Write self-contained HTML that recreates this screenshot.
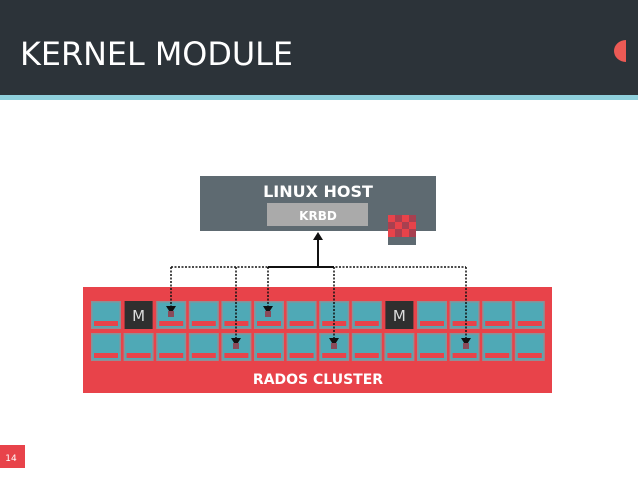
<!DOCTYPE html>
<html><head><style>
body{margin:0;width:638px;height:479px;overflow:hidden;background:#fff;font-family:"DejaVu Sans","Liberation Sans",sans-serif}
</style></head><body>
<svg width="638" height="479" viewBox="0 0 638 479" xmlns="http://www.w3.org/2000/svg" font-family="DejaVu Sans, Liberation Sans, sans-serif">
<rect x="0" y="0" width="638" height="95" fill="#2c3339"/>
<rect x="0" y="95" width="638" height="5" fill="#8fd0dc"/>
<text x="20" y="65" font-size="32" fill="#fff" textLength="273" lengthAdjust="spacingAndGlyphs">KERNEL MODULE</text>
<path d="M626 40 A12 11 0 0 0 626 62 Z" fill="#ec5a55"/>
<rect x="200" y="176" width="236" height="55" fill="#5e6a71"/>
<text x="318" y="197" font-size="16" font-weight="bold" fill="#fff" text-anchor="middle">LINUX HOST</text>
<rect x="267" y="203" width="101" height="23" fill="#aaaaaa"/>
<text x="318" y="220" font-size="12" font-weight="bold" fill="#fff" text-anchor="middle">KRBD</text>
<g id="ic">
<rect x="388" y="215" width="28" height="30" fill="#5e6a71"/>
<rect x="388" y="215" width="28" height="22" fill="#e8434a"/>
<rect x="395" y="215" width="7" height="7" fill="#a84050"/><rect x="409" y="215" width="7" height="7" fill="#a84050"/>
<rect x="388" y="222" width="7" height="7" fill="#a84050"/><rect x="402" y="222" width="7" height="7" fill="#a84050"/>
<rect x="395" y="229" width="7" height="8" fill="#a84050"/><rect x="409" y="229" width="7" height="8" fill="#a84050"/>
</g>
<rect x="83" y="287" width="469" height="106" fill="#e8434a"/>
<g id="cells"></g>
<text x="318" y="384" font-size="14" font-weight="bold" fill="#fff" text-anchor="middle">RADOS CLUSTER</text>
<g stroke="#111" stroke-width="1.5" fill="none">
<path d="M171 267 H466" stroke-dasharray="2,1.5"/>
<path d="M268 267 H334" stroke-width="2"/>
<path d="M318 267 V240" stroke-width="2"/>
<path d="M171 267 V308 M236 267 V340 M268 267 V308 M334 267 V340 M466 267 V340" stroke-dasharray="2,1.5"/>
</g>
<g fill="#111">
<path d="M313 240 L323 240 L318 232 Z"/>
<path d="M166 306 L176 306 L171 314 Z"/>
<path d="M263 306 L273 306 L268 314 Z"/>
<path d="M231 338 L241 338 L236 346 Z"/>
<path d="M329 338 L339 338 L334 346 Z"/>
<path d="M461 338 L471 338 L466 346 Z"/>
</g>
<g fill="#8a4a5a">
<rect x="168" y="311" width="6" height="6"/><rect x="265" y="311" width="6" height="6"/>
<rect x="233" y="343" width="6" height="6"/><rect x="331" y="343" width="6" height="6"/><rect x="463" y="343" width="6" height="6"/>
</g>
<rect x="0" y="445" width="25" height="23" fill="#e8434a"/>
<text x="11" y="461" font-size="9" fill="#fff" text-anchor="middle">14</text>
</svg>
<script>
var g=document.getElementById('cells'),s='';
for(var r=0;r<2;r++)for(var i=0;i<14;i++){
var x=91+32.6*i,y=r?333:301;
if(r==0&&(i==1||i==9)){s+='<rect x="'+(x+1)+'" y="'+y+'" width="28" height="28" fill="#2f2f2f"/><text x="'+(x+15)+'" y="'+(y+20)+'" font-size="15" fill="#ddd" text-anchor="middle">M</text>';continue;}
s+='<rect x="'+(x+0.75)+'" y="'+(y+0.75)+'" width="28.5" height="26.5" fill="#4fa9b6" stroke="#8f8f95" stroke-width="1.5"/>';
s+='<rect x="'+(x+3)+'" y="'+(y+20)+'" width="24" height="5" fill="#e8434a"/>';
}
g.innerHTML=s;
</script>
</body></html>
